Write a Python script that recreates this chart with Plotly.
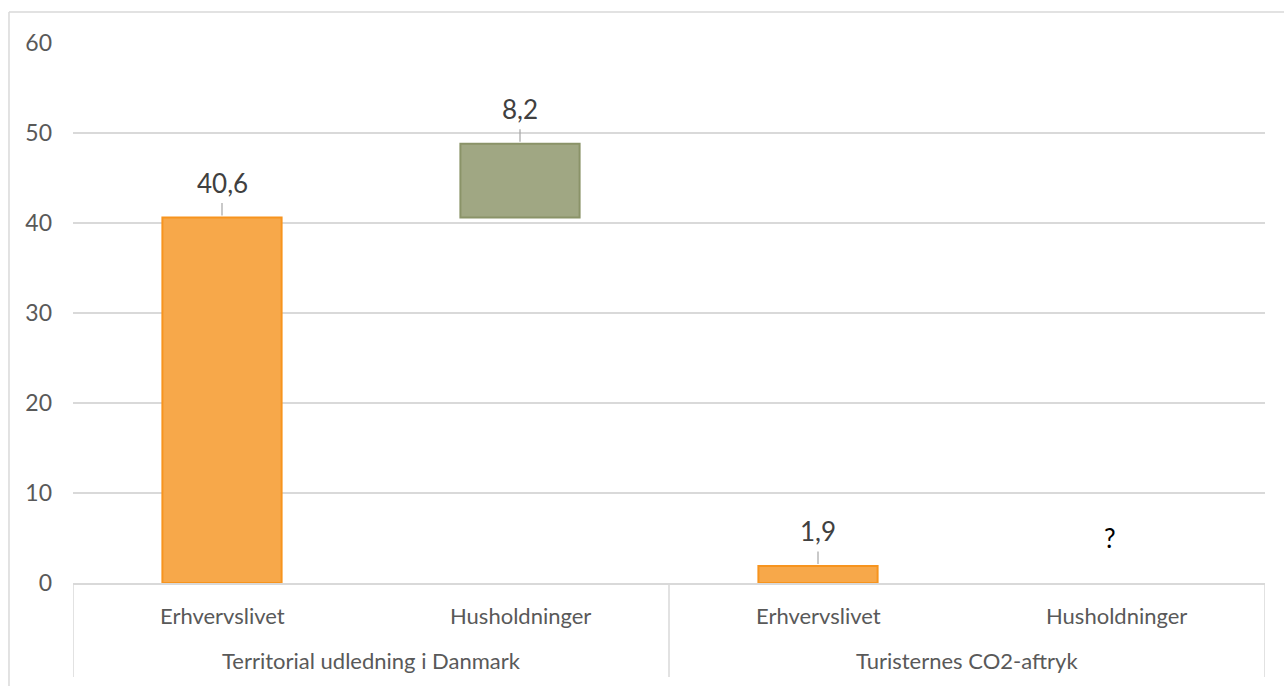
import plotly.graph_objects as go

# ---- data ----
groups = ["Territorial udledning i Danmark", "Turisternes CO2-aftryk"]
categories = ["Erhvervslivet", "Husholdninger", "Erhvervslivet", "Husholdninger"]
cat_group = [0, 0, 1, 1]
values = [40.6, 8.2, 1.9, None]          # None = unknown ("?")
bases = [0, 40.6, 0, 0]
labels = ["40,6", "8,2", "1,9", "?"]
y_ticks = [0, 10, 20, 30, 40, 50, 60]

ORANGE_FILL = "#F7A84A"
ORANGE_LINE = "#F7941E"
GREEN_FILL = "#A0A783"
GREEN_LINE = "#8A9368"
GRID = "#D9D9D9"
TXT = "#595959"
FONT = "Lato"

x_pos = list(range(len(categories)))
fig = go.Figure()

# orange bars (Erhvervslivet)
ox = [x for x in x_pos if categories[x] == "Erhvervslivet" and values[x] is not None]
fig.add_trace(go.Bar(
    x=ox, y=[values[i] for i in ox], base=[bases[i] for i in ox],
    width=0.4, marker=dict(color=ORANGE_FILL, line=dict(color=ORANGE_LINE, width=2)),
    hoverinfo="skip", showlegend=False))
# green bars (Husholdninger)
gx = [x for x in x_pos if categories[x] == "Husholdninger" and values[x] is not None]
fig.add_trace(go.Bar(
    x=gx, y=[values[i] for i in gx], base=[bases[i] for i in gx],
    width=0.4, marker=dict(color=GREEN_FILL, line=dict(color=GREEN_LINE, width=2)),
    hoverinfo="skip", showlegend=False))

# data labels with leader lines
for i in x_pos:
    if values[i] is not None:
        top = bases[i] + values[i]
        fig.add_annotation(x=i, y=top, xref="x", yref="y", text=labels[i],
                           showarrow=True, arrowhead=0, arrowwidth=1.2, arrowcolor="#A6A6A6",
                           ax=0, ay=-35, standoff=2, startstandoff=3,
                           font=dict(family=FONT, size=26, color="#404040"))
    else:
        fig.add_annotation(x=i, y=0, xref="x", yref="y", text=labels[i],
                           showarrow=False, yshift=45, xshift=-6, yanchor="middle",
                           font=dict(family=FONT, size=26, color="#000000"))

# category labels
for i in x_pos:
    fig.add_annotation(x=i, y=-0.0593, xref="x", yref="paper", text=categories[i],
                       showarrow=False, yanchor="middle",
                       font=dict(family=FONT, size=22, color=TXT))
# group labels
for g, name in enumerate(groups):
    members = [i for i in x_pos if cat_group[i] == g]
    cx = (members[0] + members[-1]) / 2
    fig.add_annotation(x=cx, y=-0.1444, xref="x", yref="paper", text=name,
                       showarrow=False, yanchor="middle",
                       font=dict(family=FONT, size=22, color=TXT))

# group separators
for sx in [-0.5, 1.5, 3.5]:
    fig.add_shape(type="line", xref="x", yref="paper", x0=sx, x1=sx, y0=0, y1=-0.174,
                  line=dict(color=GRID, width=1.5))

# outer chart border (top and left)
fig.add_shape(type="line", xref="paper", yref="paper", x0=-0.0537, x1=1.1, y0=1.0574, y1=1.0574,
              line=dict(color=GRID, width=1.5))
fig.add_shape(type="line", xref="paper", yref="paper", x0=-0.0537, x1=-0.0537, y0=1.0574, y1=-0.25,
              line=dict(color=GRID, width=1.5))

fig.update_layout(
    width=1284, height=686,
    margin=dict(l=73, r=19, t=43, b=103),
    paper_bgcolor="white", plot_bgcolor="white",
    barmode="overlay",
    font=dict(family=FONT, size=22, color=TXT),
    xaxis=dict(range=[-0.5, 3.5], showticklabels=False, showgrid=False, zeroline=False,
               showline=True, linecolor=GRID, linewidth=1.5, ticks="", fixedrange=True),
    yaxis=dict(range=[0, 60], tickvals=y_ticks, showgrid=True, gridcolor=GRID, gridwidth=1.5,
               zeroline=False, showline=False, ticks="", ticklabelstandoff=20,
               tickfont=dict(family=FONT, size=23, color=TXT), fixedrange=True),
)

fig.write_html("out.html", config={"displayModeBar": False})
